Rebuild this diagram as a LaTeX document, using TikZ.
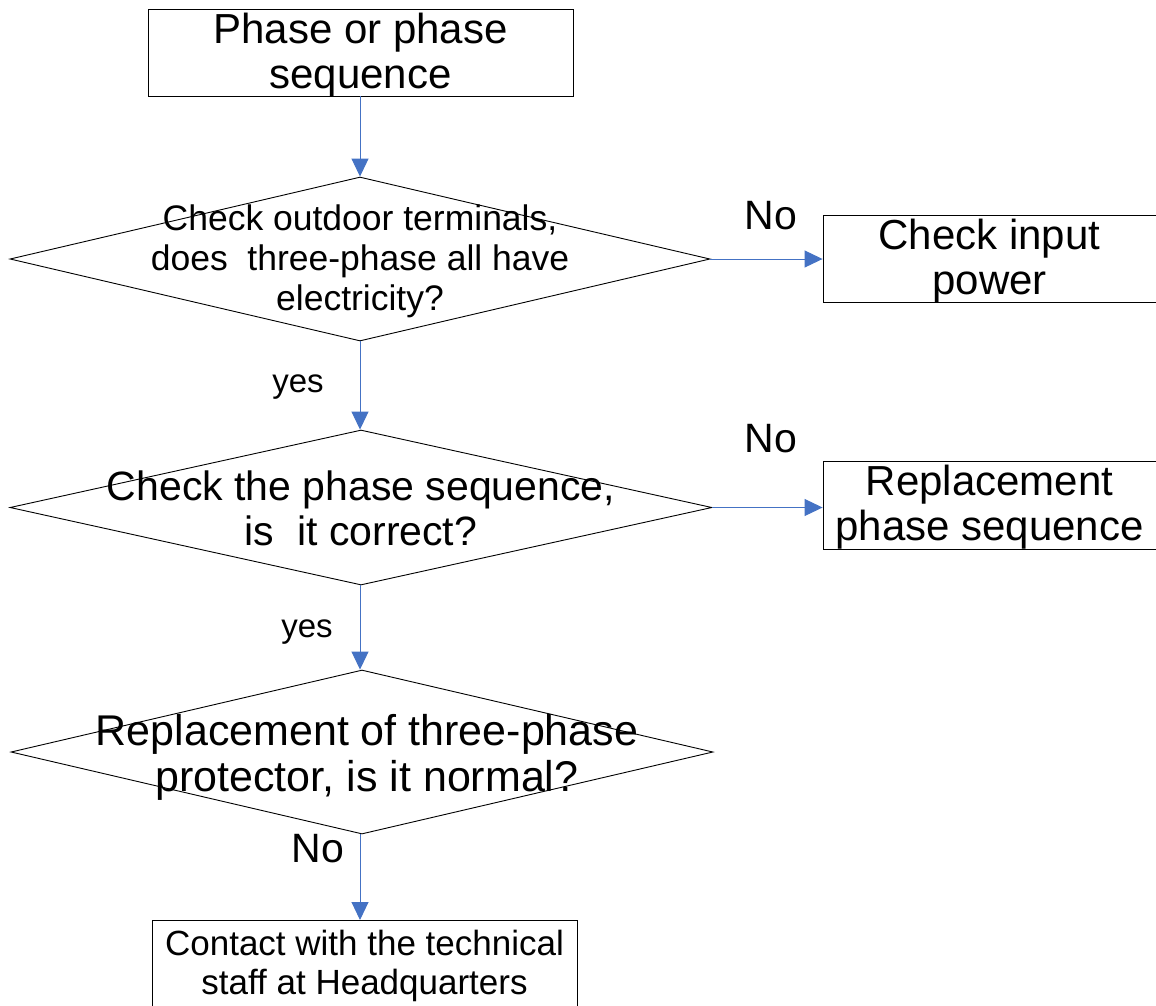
\documentclass[tikz,border=0pt]{standalone}
\usepackage{fontspec}
\setmainfont{Liberation Sans}
\usetikzlibrary{arrows.meta,shapes.geometric}
\definecolor{arrowblue}{HTML}{4472C4}
\begin{document}
\begin{tikzpicture}[x=1pt,y=-1pt,
  box/.style={draw=black, line width=0.9pt, inner sep=0pt, align=center},
  dia/.style={draw=black, line width=0.9pt, shape=diamond, inner sep=0pt},
  conn/.style={draw=arrowblue, line width=1pt, -{Triangle[length=18pt,width=17pt]}},
  lab/.style={inner sep=0pt, align=center},
  bigfont/.style={font=\fontsize{42}{45}\selectfont},
  midfont/.style={font=\fontsize{35.5}{40}\selectfont},
]
\useasboundingbox (0,0) rectangle (1156,1005);

% boxes
\node[box, minimum width=425pt, minimum height=87pt] (b1) at (360.5,52.5) {};
\node[lab, bigfont] (t0) at (360.5,55.5) {Phase or phase\\sequence};
\node[box, minimum width=333pt, minimum height=87pt] (b2) at (989.5,258.5) {};
\node[lab, bigfont] (t5) at (989.5,261) {Check input\\power};
\node[box, minimum width=333pt, minimum height=88pt] (b3) at (989.5,505) {};
\node[lab, bigfont] (t6) at (989.5,507.5) {Replacement\\phase sequence};
\node[box, minimum width=425pt, minimum height=95pt, anchor=north] (b4) at (364.5,920) {};
\node[lab, font=\fontsize{35}{39}\selectfont] (t4) at (364.5,965.5) {Contact with the technical\\staff at Headquarters};

% diamonds
\node[dia, minimum width=700pt, minimum height=164pt] (d1) at (360,259) {};
\node[lab, midfont] (t1) at (360,261) {Check outdoor terminals,\\does\ \ three-phase all have\\electricity?};
\node[dia, minimum width=702pt, minimum height=155pt] (d2) at (361,507.5) {};
\node[lab, font=\fontsize{41}{45}\selectfont] (t2) at (361,508) {Check the phase sequence,\\is\ \ it correct?};
\node[dia, minimum width=702pt, minimum height=164pt] (d3) at (362,752) {};
\node[lab, font=\fontsize{43}{46}\selectfont] (t3) at (367,757) {Replacement of three-phase\\protector, is it normal?};

% connectors
\draw[conn] (b1.south -| 360,0) -- (d1.north);
\draw[conn] (d1.east) -- (d1.east -| b2.west);
\draw[conn] (d1.south) -- (d2.north -| d1.south);
\draw[conn] (d2.east) -- (d2.east -| b3.west);
\draw[conn] (d2.south -| d1.south) -- (d3.north -| d1.south);
\draw[conn] (d3.south -| d1.south) -- (b4.north -| d1.south);

% labels
\node[lab, font=\fontsize{41}{45}\selectfont] (no1) at (771,216) {No};
\node[lab, font=\fontsize{41}{45}\selectfont] (no2) at (771,439) {No};
\node[lab, font=\fontsize{41}{45}\selectfont] (no3) at (318,849) {No};
\node[lab, font=\fontsize{33}{38}\selectfont] (y1) at (298,387) {yes};
\node[lab, font=\fontsize{33}{38}\selectfont] (y2) at (307,632) {yes};
\end{tikzpicture}
\end{document}
